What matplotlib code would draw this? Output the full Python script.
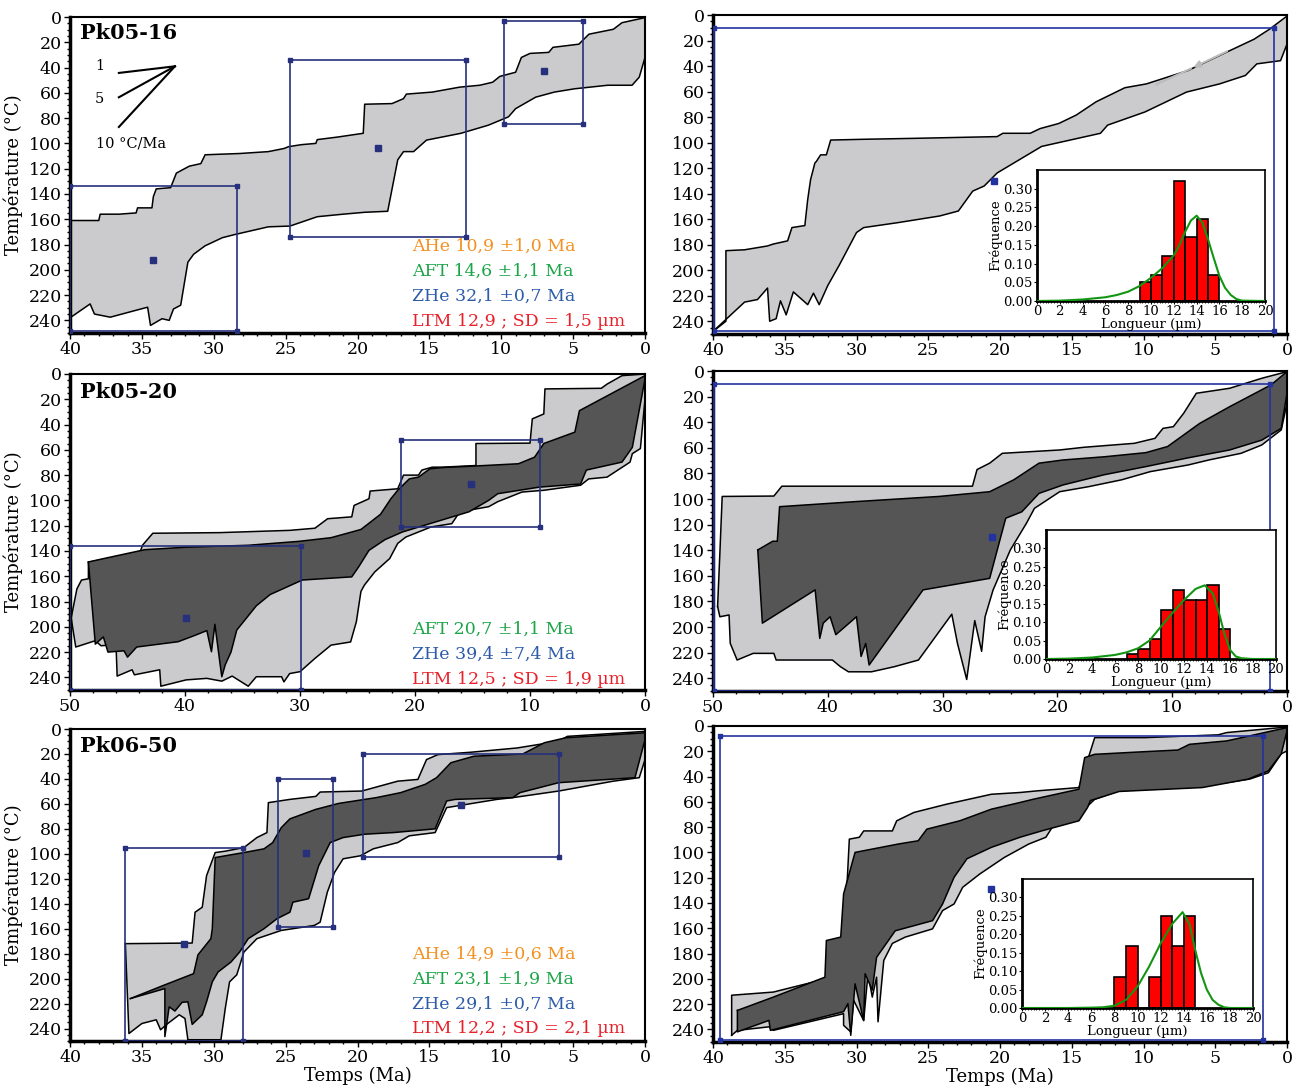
import matplotlib
matplotlib.use("Agg")
import matplotlib.pyplot as plt
from matplotlib.ticker import MultipleLocator, FormatStrFormatter

plt.rcParams['font.family'] = ['DejaVu Serif']

# ---- data : (temps Ma, temperature degC) ----
# Pk05-16 sans contrainte LTM
A_light_top = [(40, 161), (38, 161), (37.9, 156), (36.6, 156), (35.4, 155), (35.3, 151), (34.3, 151), (34.2, 142),
               (34.0, 136), (33.0, 135), (32.6, 123.5), (31.7, 118), (30.9, 116), (30.6, 109), (28.2, 108),
               (26.2, 106.5), (25.1, 104), (24.8, 102.6), (23.9, 101), (22.9, 100), (22.8, 97), (21.4, 95),
               (19.6, 92), (19.5, 69), (17.6, 68.5), (16.8, 64.6), (16.6, 61), (14.8, 59.4), (12.9, 55.5),
               (11.5, 54), (10.6, 51.6), (10.1, 47), (9.0, 43.7), (8.6, 32), (8.0, 28.8), (6.7, 28), (6.4, 24),
               (4.6, 21.5), (3.9, 13.6), (2.2, 9.7), (1.6, 4.5), (0, 0.5)]
A_light_bot = [(40, 238), (38.6, 227), (38.3, 235), (37.2, 237.5), (35.4, 232), (34.6, 229.6), (34.4, 244),
               (33.6, 238.7), (33.1, 240), (32.8, 231), (32.3, 228), (31.8, 194), (31.4, 187.7), (30.6, 181),
               (29.4, 174.6), (28.5, 172), (26.2, 166), (24.7, 165.4), (22.8, 158), (21.0, 156), (19.5, 154.5),
               (17.9, 153.7), (17.2, 113), (16.8, 106.5), (16.1, 106.5), (15.2, 97.4), (12.8, 92), (10.9, 85.6),
               (9.5, 79), (9.0, 72.5), (7.6, 63.4), (6.3, 59.4), (4.9, 56.8), (2.6, 54), (0.9, 54), (0.4, 47.6),
               (0, 32)]
A_boxes = [(40, 28.4, 134, 248.4), (24.7, 12.45, 34, 174), (9.8, 4.3, 3, 85)]
A_pts = [(34.2, 192), (18.6, 104), (7.05, 43)]
A_ages = ["AHe 10,9 \u00b11,0 Ma", "AFT 14,6 \u00b11,1 Ma", "ZHe 32,1 \u00b10,7 Ma", "LTM 12,9 ; SD = 1,5 \u00b5m"]

# Pk05-16 avec LTM
B_light_top = [(40, 248), (39.1, 240), (39.1, 184.7), (37.8, 184), (36.2, 181), (35.8, 179.5), (34.8, 177),
               (34.5, 166.6), (33.6, 165), (33.4, 144.6), (33.2, 129), (32.9, 116), (32.8, 114.8), (32.5, 109.6),
               (32.1, 109.6), (31.8, 98), (29.5, 97.4), (25.7, 96.6), (20.2, 95.3), (19.8, 92.7), (17.9, 92.7),
               (17.2, 89), (15.9, 85), (14.7, 78.5), (13.3, 68), (11.3, 57), (9.8, 54), (6.9, 43.5), (4.0, 28),
               (2.3, 19), (1.2, 11), (0, 0.8)]
B_light_bot = [(40, 248), (37.8, 225), (36.9, 223), (36.2, 214), (36.05, 240), (35.6, 238), (35.3, 224),
               (34.9, 235), (34.4, 217), (33.9, 222), (33.4, 227), (33.0, 218), (32.6, 227), (32.0, 212),
               (31.2, 196), (30.0, 170.5), (29.5, 166.6), (27.1, 162.7), (24.2, 157.5), (22.9, 153.6), (21.9, 138),
               (21.1, 134), (20.2, 123.8), (17.1, 103), (13.0, 92.7), (12.5, 86.3), (9.9, 76), (7.0, 60.4),
               (4.7, 54), (2.9, 47.4), (2.1, 38.3), (0.45, 35.8), (0, 22.8)]
B_boxes = [(39.9, 0.9, 10, 248)]
B_pts = [(20.4, 130)]
B_edges = [9, 10, 11, 12, 13, 14, 15, 16]
B_freq = [0.05, 0.07, 0.12, 0.32, 0.17, 0.22, 0.07]
B_len = [0, 2, 4, 6, 7, 8, 9, 10, 11, 12, 12.5, 13, 13.5, 14, 14.5, 15, 15.5, 16, 16.5, 17, 17.5, 18, 20]
B_fit = [0, 0.001, 0.004, 0.01, 0.016, 0.025, 0.04, 0.062, 0.088, 0.122, 0.15, 0.185, 0.215, 0.228, 0.21,
         0.165, 0.115, 0.067, 0.035, 0.016, 0.005, 0.001, 0]

# Pk05-20 sans LTM
C_light_top = [(49.9, 193), (49.4, 170), (49.0, 163), (48.4, 162), (48.4, 149), (46.8, 146), (44.0, 143.6),
               (43.7, 135.5), (42.8, 126), (37.0, 125.5), (30.9, 123.7), (28.7, 122), (27.6, 114.5), (25.5, 113),
               (25.3, 104), (24.0, 98.7), (23.9, 92.6), (21.5, 90.8), (21.0, 80), (19.7, 80), (19.4, 76),
               (18.5, 73.7), (17.6, 73.7), (14.7, 72.4), (14.7, 55), (10.0, 54.7), (9.8, 35.5), (8.8, 31.6),
               (8.7, 11.8), (3.8, 11.3), (3.3, 8), (2.0, 1.3), (0, 0)]
C_light_bot = [(49.9, 193), (49.5, 216), (47.8, 211), (47.3, 215), (46.0, 214), (45.9, 239), (44.6, 234),
               (44.4, 238), (42.2, 234), (42.1, 247), (39.9, 242), (38.1, 240.8), (36.8, 243), (35.9, 239),
               (34.5, 247), (33.8, 239.5), (31.6, 239.5), (31.4, 243.6), (30.9, 237), (30.0, 235.5), (28.7, 225),
               (27.3, 214.5), (25.6, 212), (25.1, 196), (24.7, 172), (24.4, 167), (23.5, 156.6), (22.2, 146),
               (21.5, 134), (20.8, 129), (18.6, 121), (16.8, 118.4), (16.1, 109), (13.6, 105), (12.8, 101),
               (10.7, 93.4), (8.8, 92), (5.6, 88), (4.9, 83), (3.3, 81.6), (1.3, 69.7), (1.1, 63), (0.4, 59),
               (0, 19.7)]
C_dark_top = [(48.4, 148.7), (46.8, 145.5), (43.5, 139), (39.9, 137), (34.5, 135.5), (30.1, 132.4),
              (27.3, 129.5), (24.7, 123), (23.0, 111), (22.1, 98.7), (21.5, 92), (20.5, 83), (19.7, 81.6),
              (18.7, 75), (17.6, 74), (15.2, 73), (11.0, 71), (9.6, 65.8), (8.8, 55), (6.1, 46), (5.7, 29),
              (0, 1.3)]
C_dark_bot = [(48.4, 148.7), (47.8, 213.7), (47.1, 208), (46.7, 220), (45.3, 219), (45.0, 224), (44.2, 216),
              (40.6, 211.8), (39.2, 207), (38.1, 203), (37.7, 219.7), (37.4, 198), (37.0, 226), (36.8, 239.5),
              (36.5, 230), (36.0, 220), (35.5, 202.6), (33.8, 183.4), (32.6, 174.5), (29.8, 163), (25.5, 160.5),
              (24.9, 152.6), (24.0, 139.5), (22.6, 131), (21.1, 125), (18.2, 117), (15.3, 109), (13.6, 100),
              (12.8, 94.7), (9.2, 89.5), (5.6, 87), (5.1, 76), (2.0, 69.7), (1.1, 58), (0, 4)]
C_boxes = [(50, 29.9, 136, 250), (21.2, 9.1, 52.6, 121)]
C_pts = [(39.9, 193), (15.1, 87)]
C_ages = ["AFT 20,7 \u00b11,1 Ma", "ZHe 39,4 \u00b17,4 Ma", "LTM 12,5 ; SD = 1,9 \u00b5m"]

# Pk05-20 avec LTM
D_light_top = [(49.6, 184), (49.4, 142), (49.2, 98), (44.7, 97.7), (44.0, 90), (27.4, 90), (27.0, 77),
               (25.9, 72), (24.8, 64.3), (19.8, 61.7), (17.7, 59.6), (13.3, 56.5), (11.5, 52.6), (10.8, 44.8),
               (9.9, 43.5), (9.0, 33), (7.9, 17.4), (5.0, 13.5), (2.2, 5.7), (0, 0.5)]
D_light_bot = [(49.6, 184), (49.4, 192), (48.6, 190.6), (48.5, 212.7), (47.9, 225.8), (46.5, 220.6),
               (44.7, 220.6), (44.5, 225.8), (39.6, 225.8), (38.9, 231), (38.2, 235), (36.2, 235), (34.2, 231),
               (32.1, 225.8), (29.2, 190), (28.7, 213), (27.9, 241), (27.2, 195), (26.6, 219), (26.3, 192),
               (25.6, 171), (24.1, 139.8), (22.7, 119), (22.0, 107.3), (19.8, 94.3), (17.3, 90.4), (14.4, 85),
               (11.9, 78.6), (8.6, 73.4), (6.8, 69.5), (4.0, 64.3), (2.2, 57.8), (0.5, 46), (0, 25)]
D_dark_top = [(46.1, 139.8), (44.8, 133), (44.4, 133), (44.2, 106), (37.5, 102), (30.3, 98), (25.9, 94.3),
              (23.8, 85), (21.6, 72), (19.5, 69.5), (15.9, 67), (12.3, 63.8), (10.4, 59), (7.6, 40.9),
              (5.0, 27.9), (1.4, 10.9), (0, 0.5)]
D_dark_bot = [(46.1, 139.8), (45.7, 197), (41.1, 171), (40.7, 208.9), (40.4, 197), (39.8, 192), (39.3, 206),
              (37.5, 192), (37.1, 223), (36.7, 212.8), (36.4, 229.7), (31.7, 171), (25.9, 162), (24.5, 115),
              (23.1, 110), (21.6, 95.6), (19.5, 89), (15.9, 81), (12.3, 74.7), (8.7, 68), (5.0, 61.7),
              (2.2, 54), (0.5, 44.8), (0, 17.4)]
D_boxes = [(49.9, 1.44, 10, 250)]
D_pts = [(25.7, 130)]
D_edges = [7, 8, 9, 10, 11, 12, 13, 14, 15, 16]
D_freq = [0.013, 0.026, 0.054, 0.134, 0.186, 0.159, 0.159, 0.2, 0.081]
D_len = [0, 2, 4, 6, 7, 8, 9, 10, 11, 12, 13, 13.8, 14.5, 15, 15.5, 16, 16.5, 17, 18, 20]
D_fit = [0, 0.001, 0.004, 0.011, 0.018, 0.029, 0.05, 0.088, 0.125, 0.16, 0.19, 0.2, 0.178, 0.13, 0.07,
         0.025, 0.007, 0.002, 0, 0]

# Pk06-50 sans LTM
E_light_top = [(36.15, 172), (31.5, 171.5), (31.3, 146.8), (30.8, 142.8), (30.5, 117.5), (29.9, 99),
               (29.2, 97.9), (27.9, 95), (27.0, 87), (26.3, 83), (26.2, 59), (24.7, 56.4), (22.9, 54),
               (22.6, 50.5), (19.7, 49.7), (17.2, 41.8), (15.8, 40.4), (15.2, 24.5), (14.4, 20.5), (12.1, 18.6),
               (8.9, 15.2), (6.0, 9.8), (5.4, 5.9), (0, 1.9)]
E_light_bot = [(36.15, 172), (35.9, 244), (35.0, 236), (34.0, 233), (33.7, 241), (33.2, 236), (32.4, 229),
               (32.0, 232), (31.8, 249), (29.5, 249), (29.2, 224), (28.9, 202.6), (28.4, 197), (27.9, 178.7),
               (27.0, 168), (25.3, 161.4), (23.0, 157.4), (22.6, 154.8), (22.1, 130.8), (21.6, 115), (21.0, 104),
               (19.8, 101.6), (18.9, 96), (17.2, 91), (16.4, 85.6), (14.6, 83), (13.8, 63), (10.3, 56.4),
               (9.2, 55), (6.0, 49.7), (2.2, 41.8), (0.4, 39), (0, 24.5)]
E_dark_top = [(35.8, 216), (33.4, 205), (31.4, 196), (31.1, 181), (30.2, 168), (30.1, 160), (29.9, 103),
              (29.2, 101.6), (27.9, 99), (26.5, 96), (25.9, 91), (25.3, 79), (24.7, 72), (22.9, 64.4),
              (21.3, 59.6), (18.7, 55), (17.0, 51), (15.3, 44.4), (14.5, 39), (13.5, 27), (11.9, 21.8),
              (8.5, 20), (7.0, 11), (5.5, 7), (0, 3)]
E_dark_bot = [(35.8, 216), (33.4, 208), (33.4, 246.5), (33.1, 222.6), (32.7, 226), (32.2, 219), (31.8, 218.6),
              (31.5, 236.7), (30.8, 229), (30.5, 218.6), (30.1, 202.6), (29.7, 194.7), (28.8, 186.7),
              (28.2, 178.7), (27.6, 168), (26.5, 160), (25.6, 152), (24.7, 146.8), (24.5, 138.8), (23.4, 136),
              (22.7, 109.6), (21.9, 91), (21.0, 87), (19.5, 84.3), (17.5, 83), (14.6, 80), (13.8, 57.7),
              (13.2, 56.4), (9.2, 55), (8.7, 51), (6.0, 43), (0.7, 39), (0, 8.5)]
E_boxes = [(36.15, 28.0, 95.5, 250), (25.5, 21.7, 40, 159), (19.6, 6.0, 20, 102.4)]
E_pts = [(32.1, 172), (23.6, 99.7), (12.8, 61)]
E_ages = ["AHe 14,9 \u00b10,6 Ma", "AFT 23,1 \u00b11,9 Ma", "ZHe 29,1 \u00b10,7 Ma", "LTM 12,2 ; SD = 2,1 \u00b5m"]

# Pk06-50 avec LTM
F_light_top = [(38.7, 244.7), (38.7, 213), (35.8, 210.5), (32.1, 200), (32.0, 171), (30.9, 168), (30.8, 156.6),
               (30.5, 89.5), (29.8, 88), (29.5, 83), (27.5, 83), (27.2, 75), (26.0, 68.4), (23.7, 61.8),
               (20.6, 54), (18.6, 52.6), (17.4, 51.3), (14.5, 48.7), (13.4, 9.2), (9.9, 9.2), (4.8, 7),
               (4.2, 5.2), (0, 0.8)]
F_light_bot = [(38.7, 244.7), (38.3, 240.8), (36.1, 238), (35.8, 240.8), (30.9, 227.6), (30.9, 236.8),
               (30.4, 242), (30.2, 217), (29.5, 233), (29.2, 196), (28.9, 214.5), (28.6, 198.7), (28.5, 234),
               (28.1, 185.5), (27.5, 172), (26.6, 167), (24.7, 160.5), (24.0, 146), (23.2, 140.8), (22.6, 127.6),
               (21.4, 117), (19.7, 104), (18.0, 93.4), (16.8, 88), (16.3, 79), (14.9, 75), (14.0, 64.5),
               (13.4, 58), (11.7, 51.3), (5.7, 47.4), (2.6, 42), (1.3, 37), (0.4, 22), (0, 19.7)]
F_dark_top = [(38.3, 225), (35.8, 214.5), (32.2, 198.7), (32.1, 169.7), (31.1, 167), (30.9, 132.9),
              (30.1, 100), (27.1, 93.4), (25.7, 90.8), (25.1, 81.6), (22.8, 75), (20.6, 65.8), (18.6, 60.5),
              (17.7, 58), (14.5, 50), (14.1, 25), (13.4, 22.4), (9.9, 20.3), (7.6, 19), (6.8, 14.5),
              (4.2, 11.8), (0, 1.3)]
F_dark_bot = [(38.3, 225), (38.3, 242), (36.1, 232.9), (36.0, 240.8), (30.9, 226), (30.6, 219.7),
              (30.4, 244.7), (30.1, 204), (29.5, 233), (29.4, 196), (28.9, 208.9), (28.6, 183), (27.3, 162),
              (24.7, 154), (24.0, 140.8), (23.2, 119.7), (22.3, 105), (20.6, 96), (18.6, 88), (17.1, 83),
              (14.5, 75), (13.9, 64.5), (13.7, 59), (11.7, 51.8), (5.9, 48.7), (2.7, 42), (1.3, 35.5),
              (0.4, 22), (0, 4)]
F_boxes = [(39.5, 1.7, 7.9, 248.7)]
F_pts = [(20.6, 129)]
F_edges = [8, 9, 10, 11, 12, 13, 14, 15]
F_freq = [0.083, 0.167, 0.0, 0.083, 0.25, 0.167, 0.25]
F_len = [0, 4, 6, 7, 8, 9, 10, 11, 12, 13, 13.9, 14.5, 15, 15.5, 16, 16.5, 17, 17.5, 18, 20]
F_fit = [0, 0, 0.001, 0.002, 0.006, 0.022, 0.058, 0.112, 0.175, 0.228, 0.26, 0.228, 0.157, 0.095, 0.05,
         0.022, 0.009, 0.002, 0, 0]

age_colors = {"AHe": "#F39120", "AFT": "#1BA548", "ZHe": "#2C5BA9", "LTM": "#E8202A"}
LIGHT = "#CBCBCD"
DARK = "#555555"
NAVY = "#26307C"

W, H = 1298, 1088
fig = plt.figure(figsize=(W / 100, H / 100), dpi=100)


def frac(l, t, r, b):
    # pixel box -> figure fraction
    return [l / W, 1 - b / H, (r - l) / W, (b - t) / H]


def envelope(ax, top, bot, col, z):
    xs = [p[0] for p in top] + [p[0] for p in bot[::-1]]
    ys = [p[1] for p in top] + [p[1] for p in bot[::-1]]
    ax.fill(xs, ys, color=col, lw=0, zorder=z)
    for line in (top, bot):
        ax.plot([p[0] for p in line], [p[1] for p in line], color='black', lw=1.1, zorder=z + 0.5)


def boxes(ax, bxs, pts, col):
    for t0, t1, T0, T1 in bxs:
        ax.plot([t0, t1, t1, t0, t0], [T0, T0, T1, T1, T0], color=col, lw=1.2, zorder=5,
                marker='s', ms=2.5, markevery=[0, 1, 2, 3])
    for t, T in pts:
        ax.plot(t, T, 's', color=col, ms=4, zorder=6)


def base_axes(rect, tmax, xlabel=False, ylabel=False):
    ax = fig.add_axes(frac(*rect))
    ax.set_xlim(tmax, 0)
    ax.set_ylim(250, 0)
    ax.xaxis.set_major_locator(MultipleLocator(5 if tmax == 40 else 10))
    ax.xaxis.set_minor_locator(MultipleLocator(1 if tmax == 40 else 2))
    ax.yaxis.set_major_locator(MultipleLocator(20))
    ax.yaxis.set_minor_locator(MultipleLocator(5))
    ax.tick_params(which='both', direction='out', labelsize=12.5, width=1, pad=2)
    ax.tick_params(which='major', length=4)
    ax.tick_params(which='minor', length=2.5)
    for s in ax.spines.values():
        s.set_linewidth(1.5)
    ax.spines['left'].set_linewidth(2.5)
    ax.spines['bottom'].set_linewidth(2.5)
    if ylabel:
        ax.set_ylabel("Température (°C)", fontsize=13, labelpad=4)
    if xlabel:
        ax.set_xlabel("Temps (Ma)", fontsize=13, labelpad=0)
    return ax


def ages(ax, labels, y0):
    for i, s in enumerate(labels):
        ax.text(0.595, y0 - i * 0.08, s, transform=ax.transAxes, fontsize=12.5, ha='left', va='center',
                color=age_colors[s[:3]], zorder=8)


def title(ax, s, y):
    ax.text(0.017, y, s, transform=ax.transAxes, fontsize=15, fontweight='bold', ha='left', va='center',
            zorder=8)


def inset(rect, edges, freq, lens, fit):
    ax = fig.add_axes(frac(*rect))
    ax.set_facecolor('white')
    ax.bar(edges[:-1], freq, width=1, align='edge', color='#FF0000', edgecolor='black', lw=1.2, zorder=2)
    ax.plot(lens, fit, color='#129612', lw=1.5, zorder=3)
    ax.set_xlim(0, 20)
    ax.set_ylim(0, 0.35)
    ax.xaxis.set_major_locator(MultipleLocator(2))
    ax.xaxis.set_minor_locator(MultipleLocator(0.25))
    ax.yaxis.set_major_locator(MultipleLocator(0.05))
    ax.set_yticks([0, 0.05, 0.1, 0.15, 0.2, 0.25, 0.3])
    ax.yaxis.set_major_formatter(FormatStrFormatter('%.2f'))
    ax.tick_params(which='both', labelsize=9.5, pad=1, length=2, direction='out')
    ax.tick_params(which='minor', length=1.5)
    for s in ax.spines.values():
        s.set_linewidth(1.2)
    ax.spines['left'].set_linewidth(2)
    ax.spines['bottom'].set_linewidth(2)
    ax.set_ylabel("Fréquence", fontsize=9.5, labelpad=1)
    ax.set_xlabel("Longueur (µm)", fontsize=9.5, labelpad=0)
    return ax


# --- Pk05-16 ---
ax = base_axes((70, 17, 645, 333), 40, ylabel=True)
envelope(ax, A_light_top, A_light_bot, LIGHT, 1)
boxes(ax, A_boxes, A_pts, NAVY)
title(ax, "Pk05-16", 0.949)
ages(ax, A_ages, 0.275)
# legende des pentes
for yy in (0.823, 0.746, 0.652):
    ax.plot([0.085, 0.1825], [yy, 0.844], color='black', lw=1.5, transform=ax.transAxes, zorder=7)
ax.text(0.051, 0.846, "1", transform=ax.transAxes, fontsize=10.5, ha='center', va='center')
ax.text(0.051, 0.741, "5", transform=ax.transAxes, fontsize=10.5, ha='center', va='center')
ax.text(0.045, 0.60, "10 °C/Ma", transform=ax.transAxes, fontsize=10.5, ha='left', va='center')

ax = base_axes((713, 15, 1287, 334), 40)
envelope(ax, B_light_top, B_light_bot, LIGHT, 1)
boxes(ax, B_boxes, B_pts, "#2233A0")
ax.annotate("", xy=(6.7, 42), xytext=(4.0, 27.5),
            arrowprops=dict(arrowstyle='-|>', color='#BBBBBB', lw=1.5), zorder=4)
ax.plot([6.7, 9.1], [42, 54.4], color='#BBBBBB', lw=1.5, zorder=4)
inset((1037, 170, 1265, 301), B_edges, B_freq, B_len, B_fit)

# --- Pk05-20 ---
ax = base_axes((70, 374, 645, 690), 50, ylabel=True)
envelope(ax, C_light_top, C_light_bot, LIGHT, 1)
envelope(ax, C_dark_top, C_dark_bot, DARK, 2)
boxes(ax, C_boxes, C_pts, NAVY)
title(ax, "Pk05-20", 0.943)
ages(ax, C_ages, 0.193)

ax = base_axes((713, 371, 1287, 691), 50)
envelope(ax, D_light_top, D_light_bot, LIGHT, 1)
envelope(ax, D_dark_top, D_dark_bot, DARK, 2)
boxes(ax, D_boxes, D_pts, "#2233A0")
inset((1046, 530, 1276, 659), D_edges, D_freq, D_len, D_fit)

# --- Pk06-50 ---
ax = base_axes((70, 729, 645, 1041), 40, xlabel=True, ylabel=True)
envelope(ax, E_light_top, E_light_bot, LIGHT, 1)
envelope(ax, E_dark_top, E_dark_bot, DARK, 2)
boxes(ax, E_boxes, E_pts, NAVY)
title(ax, "Pk06-50", 0.946)
ages(ax, E_ages, 0.279)

ax = base_axes((713, 726, 1287, 1042), 40, xlabel=True)
envelope(ax, F_light_top, F_light_bot, LIGHT, 1)
envelope(ax, F_dark_top, F_dark_bot, DARK, 2)
boxes(ax, F_boxes, F_pts, "#2233A0")
inset((1022, 879, 1253, 1008), F_edges, F_freq, F_len, F_fit)

fig.savefig("out.png", dpi=100)
